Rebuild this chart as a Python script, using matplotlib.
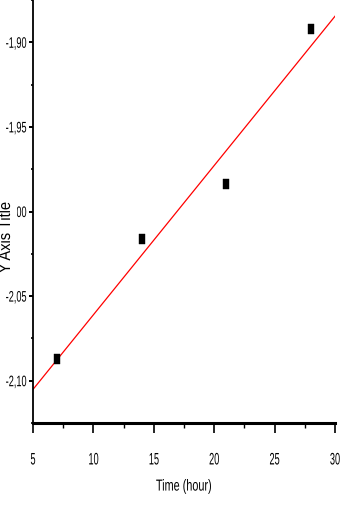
#!/usr/bin/env python3
"""Linear fit of Y vs time, style of an old Origin plot."""

import numpy as np
import matplotlib
matplotlib.use("Agg")
import matplotlib.pyplot as plt
from matplotlib.path import Path
from matplotlib.patheffects import AbstractPathEffect
from matplotlib.transforms import Affine2D
from matplotlib.ticker import FuncFormatter, MultipleLocator

# --------------------------------------------------------------------------- #
# data
# --------------------------------------------------------------------------- #
time_hour = [7, 14, 21, 28]
y_values = [-2.087, -2.0165, -1.984, -1.892]

x_ticks = [5, 10, 15, 20, 25, 30]
y_ticks = [-2.10, -2.05, -2.00, -1.95, -1.90]


class Squeeze(AbstractPathEffect):
    """narrow the glyphs (no condensed Arial installed)"""

    def __init__(self, sx=0.68, anchor="center", axis="x"):
        super().__init__()
        self.sx, self.anchor, self.axis = sx, anchor, axis

    def draw_path(self, renderer, gc, tpath, affine, rgbFace=None):
        ext = tpath.transformed(affine).get_extents()
        if self.axis == "x":
            c = {"left": ext.x0, "right": ext.x1}.get(self.anchor, (ext.x0 + ext.x1) / 2)
            t = Affine2D().translate(-c, 0).scale(self.sx, 1).translate(c, 0)
        else:
            c = (ext.y0 + ext.y1) / 2
            t = Affine2D().translate(0, -c).scale(1, self.sx).translate(0, c)
        renderer.draw_path(gc, tpath, affine + t, rgbFace)


plt.rcParams["font.family"] = ["Liberation Sans", "DejaVu Sans"]

fig = plt.figure(figsize=(3.42, 5.12), dpi=100)
ax = fig.add_axes([0.0965, 0.1738, 0.883, 0.8262])

# fitted line over full x range
slope, icpt = np.polyfit(time_hour, y_values, 1)
xs = np.array([x_ticks[0], x_ticks[-1]])
ax.plot(xs, slope * xs + icpt, color="red", lw=0.9)

# tall black rectangles as markers
rect = Path([(-0.28, -0.5), (0.28, -0.5), (0.28, 0.5), (-0.28, 0.5), (-0.28, -0.5)],
            [Path.MOVETO, Path.LINETO, Path.LINETO, Path.LINETO, Path.CLOSEPOLY])
ax.plot(time_hour, y_values, ls="none", marker=rect, ms=6.5,
        color="black", mec="black", mew=0.3)

ax.set_xlim(5, 30)
ax.set_ylim(-2.125, -1.875)
ax.set_xticks(x_ticks)
ax.set_yticks(y_ticks)
ax.xaxis.set_minor_locator(MultipleLocator(2.5))
ax.yaxis.set_minor_locator(MultipleLocator(0.025))
ax.yaxis.set_major_formatter(FuncFormatter(lambda v, p: f"{v:.2f}".replace(".", ",")))

for s in ("top", "right"):
    ax.spines[s].set_visible(False)
ax.spines["left"].set_linewidth(1.3)
ax.spines["bottom"].set_linewidth(2.2)

ax.tick_params(axis="x", which="major", direction="out", length=7.2, width=1.2,
               labelsize=12, pad=14)
ax.tick_params(axis="x", which="minor", direction="out", length=3.6, width=1.0)
ax.tick_params(axis="y", which="major", direction="out", length=2.6, width=1.4,
               labelsize=11, pad=2)
ax.tick_params(axis="y", which="minor", direction="out", length=1.8, width=1.2)

for lab in ax.get_yticklabels():
    lab.set_path_effects([Squeeze(0.6, "right")])
for lab in ax.get_xticklabels():
    lab.set_path_effects([Squeeze(0.55, "center")])

xl = ax.set_xlabel("Time (hour)", fontsize=11.5, labelpad=8)
xl.set_path_effects([Squeeze(0.68, "center")])

# y label sits over the -2,00 tick label like in the original export
yl = fig.text(0.016, 0.536, "Y Axis Title", rotation=90, fontsize=12,
              ha="center", va="center",
              bbox=dict(facecolor="white", edgecolor="none", pad=3.2))
yl.set_path_effects([Squeeze(0.88, axis="y")])

fig.savefig("out.png", dpi=100)
